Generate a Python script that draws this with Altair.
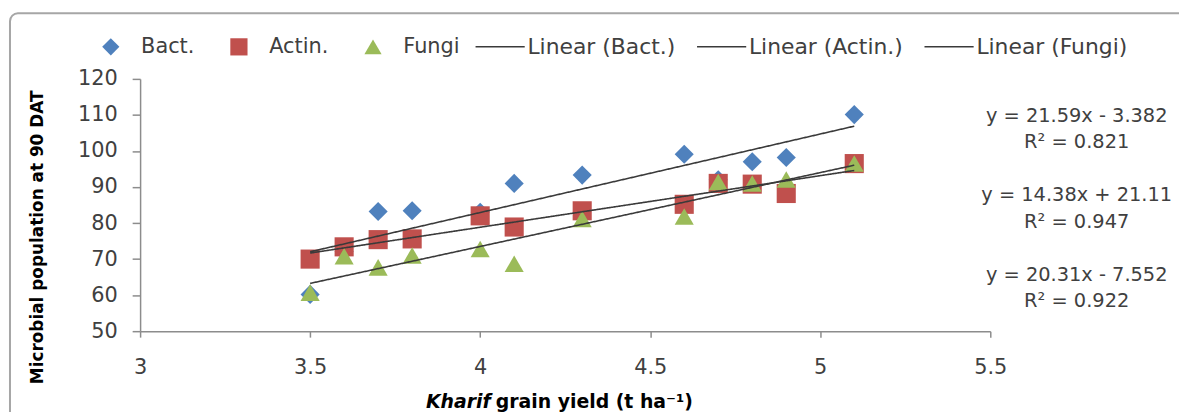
import altair as alt
import pandas as pd

# ---------------- data ----------------
grain_yield = [3.5, 3.6, 3.7, 3.8, 4.0, 4.1, 4.3, 4.6, 4.7, 4.8, 4.9, 5.1]
bact = [60.2, 72.1, 83.2, 83.4, 83.0, 91.0, 93.3, 99.1, 92.0, 97.0, 98.2, 110.1]
actin = [70.0, 73.4, 75.4, 75.6, 82.0, 78.9, 83.4, 85.2, 91.0, 90.8, 88.2, 96.5]
fungi = [60.7, 70.8, 67.7, 71.0, 72.8, 68.7, 81.1, 81.8, 91.4, 91.0, 92.1, 96.5]

series_names = ["Bact.", "Actin.", "Fungi"]
series_colors = ["#4F81BD", "#C0504D", "#9BBB59"]
series_shapes = ["diamond", "square", "triangle-up"]
trend_names = ["Linear (Bact.)", "Linear (Actin.)", "Linear (Fungi)"]
equations = ["y = 21.59x - 3.382", "y = 14.38x + 21.11", "y = 20.31x - 7.552"]
r_squared = ["R² = 0.821", "R² = 0.947", "R² = 0.922"]
x_ticks = [3, 3.5, 4, 4.5, 5, 5.5]
y_ticks = [50, 60, 70, 80, 90, 100, 110, 120]
y_title = "Microbial population at 90 DAT"
x_title_italic = "Kharif"
x_title_rest = "grain yield (t ha⁻¹)"

# ---------------- build table ----------------
rows = []
for name, vals in zip(series_names, [bact, actin, fungi]):
    for xv, yv in zip(grain_yield, vals):
        rows.append({"x": xv, "y": yv, "series": name})
df = pd.DataFrame(rows)

FONT = "DejaVu Sans"
TEXT = "#404040"
AXIS_GRAY = "#8c8c8c"

W, H = 856, 254

x_enc = alt.X(
    "x:Q",
    scale=alt.Scale(domain=[3, 5.5], nice=False, zero=False),
    axis=alt.Axis(
        values=x_ticks, tickCount=len(x_ticks), format="~g", title=None, grid=False,
        labelFlush=False, labelOverlap=False,
        domainColor=AXIS_GRAY, domainWidth=1.5, tickColor=AXIS_GRAY, tickWidth=1.5,
        tickSize=6, labelFontSize=21, labelPadding=20, labelColor=TEXT, labelFont=FONT,
    ),
)
y_enc = alt.Y(
    "y:Q",
    scale=alt.Scale(domain=[50, 120], nice=False, zero=False),
    axis=alt.Axis(
        values=y_ticks, tickCount=len(y_ticks), grid=False, title=y_title,
        labelOverlap=False, labelFlush=False,
        titleFont=FONT, titleFontSize=17, titleFontWeight="bold", titleColor="#000000",
        titleX=-103, titleY=159, titleAngle=270, titleAlign="center", titleBaseline="middle",
        domainColor=AXIS_GRAY, domainWidth=1.5, tickColor=AXIS_GRAY, tickWidth=1.5,
        tickSize=8, labelFontSize=21, labelPadding=15, labelColor=TEXT, labelFont=FONT,
    ),
)

pt_legend = alt.Legend(
    title=None, orient="none", direction="horizontal", legendX=-40, legendY=-43,
    padding=0, labelFont=FONT, labelFontSize=21, labelColor=TEXT, labelOffset=20,
    columnPadding=34, symbolSize=300, symbolStrokeWidth=0, labelLimit=300,
)

points = alt.Chart(df).mark_point(filled=True, size=370, opacity=1).encode(
    x=x_enc,
    y=y_enc,
    color=alt.Color("series:N", scale=alt.Scale(domain=series_names, range=series_colors), legend=pt_legend),
    shape=alt.Shape("series:N", scale=alt.Scale(domain=series_names, range=series_shapes), legend=pt_legend),
)

line_legend = alt.Legend(
    title=None, orient="none", direction="horizontal", legendX=337, legendY=-58,
    padding=0, labelFont=FONT, labelFontSize=22, labelColor=TEXT, labelOffset=2,
    columnPadding=18, symbolSize=2450, symbolStrokeWidth=1.5, symbolStrokeColor="#3a3a3a",
    symbolType="stroke", labelLimit=300,
)

lines = (
    alt.Chart(df)
    .transform_regression("x", "y", groupby=["series"])
    .transform_calculate(trend="'Linear (' + datum.series + ')'")
    .mark_line(color="#3a3a3a", strokeWidth=1.6)
    .encode(
        x=alt.X("x:Q"),
        y=alt.Y("y:Q"),
        strokeDash=alt.StrokeDash(
            "trend:N",
            scale=alt.Scale(domain=trend_names, range=[[1, 0], [1, 0], [1, 0]]),
            legend=line_legend,
        ),
    )
)

eq_layers = []
eq_y = [37, 117, 197]
for eq, r2, yy in zip(equations, r_squared, eq_y):
    eq_layers.append(
        alt.Chart(alt.Data(values=[{"t": eq + "\n" + r2}]))
        .mark_text(font=FONT, fontSize=19.5, color=TEXT, align="center", baseline="middle",
                   lineBreak="\n", lineHeight=27)
        .encode(text="t:N", x=alt.value(943), y=alt.value(yy))
    )

xt1 = (
    alt.Chart(alt.Data(values=[{"t": x_title_italic}]))
    .mark_text(font=FONT, fontSize=19, fontWeight="bold", fontStyle="italic", color="#000000",
               align="right", baseline="middle")
    .encode(text="t:N", x=alt.value(353), y=alt.value(325))
)
xt2 = (
    alt.Chart(alt.Data(values=[{"t": x_title_rest}]))
    .mark_text(font=FONT, fontSize=19, fontWeight="bold", color="#000000",
               align="left", baseline="middle")
    .encode(text="t:N", x=alt.value(358), y=alt.value(325))
)

border = (
    alt.Chart(alt.Data(values=[{"a": 1}]))
    .mark_rect(filled=False, stroke="#a6a6a6", strokeWidth=2, cornerRadius=8)
    .encode(x=alt.value(-131), x2=alt.value(1100), y=alt.value(-66), y2=alt.value(400))
)

chart = (
    alt.layer(border, points, lines, *eq_layers, xt1, xt2)
    .resolve_scale(color="independent", shape="independent", strokeDash="independent")
    .properties(
        width=W, height=H,
        autosize=alt.AutoSizeParams(type="none"),
        padding={"left": 133, "top": 70, "right": 190, "bottom": 80},
        background="white",
    )
    .configure_view(stroke=None)
)

chart.save("out.html", embed_options={"renderer": "svg", "actions": False})
